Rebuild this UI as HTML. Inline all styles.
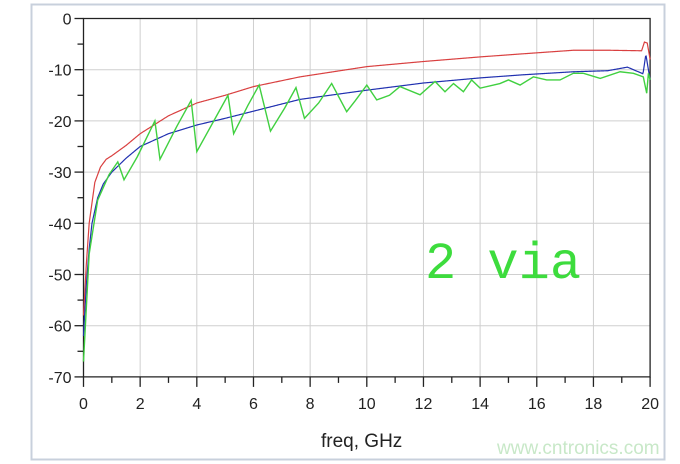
<!DOCTYPE html>
<html><head><style>
html,body{margin:0;padding:0;background:#fff;width:680px;height:464px;overflow:hidden}
svg{display:block}
text{font-family:"Liberation Sans",sans-serif}
</style></head><body>
<svg id="s" width="680" height="464" viewBox="0 0 680 464">
<rect x="31.5" y="4.5" width="633" height="455" fill="#fff" stroke="#c8d0dc" stroke-width="2"/>
<g id="grid" stroke="#cfcfcf" stroke-width="1"></g>
<g id="axes" stroke="#222" stroke-width="1.3" fill="none"></g>
<g id="lbl" font-size="16" fill="#222"></g>
<polyline id="red" fill="none" stroke="#d94040" stroke-width="1.2"/>
<polyline id="blue" fill="none" stroke="#2030b0" stroke-width="1.2"/>
<polyline id="green" fill="none" stroke="#40d040" stroke-width="1.4"/>
<text x="425" y="278" font-size="52" fill="#3ddc3d" style="font-family:'Liberation Mono',monospace">2 via</text>
<text x="321" y="447" font-size="19" fill="#222">freq, GHz</text>
<text x="497" y="454" font-size="19" fill="#c8e8c8">www.cntronics.com</text>
</svg>
<script>
var X=f=>83.5+f*28.33, Y=d=>18.5-d*5.12;
var ns="http://www.w3.org/2000/svg";
function el(p,t,a,tx){var e=document.createElementNS(ns,t);for(var k in a)e.setAttribute(k,a[k]);if(tx!=null)e.textContent=tx;document.getElementById(p).appendChild(e);}
for(var f=2;f<20;f+=2)el("grid","line",{x1:X(f),x2:X(f),y1:Y(0),y2:Y(-70)});
for(var d=-10;d>-70;d-=10)el("grid","line",{x1:X(0),x2:X(20),y1:Y(d),y2:Y(d)});
el("axes","path",{d:"M"+X(0)+" "+Y(0)+"H"+X(20)+"V"+Y(-70)+"H"+X(0)+"Z"});
for(var d=0;d>=-70;d-=5){el("axes","line",{x1:X(0)-(d%10?6:9),x2:X(0),y1:Y(d),y2:Y(d)});}
for(var f=0;f<=20;f++){el("axes","line",{x1:X(f),x2:X(f),y1:Y(-70),y2:Y(-70)+(f%2?6:10)});}
for(var d=0;d>=-70;d-=10)el("lbl","text",{x:X(0)-12,y:Y(d)+6,"text-anchor":"end"},d);
for(var f=0;f<=20;f+=2)el("lbl","text",{x:X(f),y:Y(-70)+32,"text-anchor":"middle"},f);
function interp(t,f){for(var i=1;i<t.length;i++)if(f<=t[i][0]){var a=t[i-1],b=t[i],u=(f-a[0])/(b[0]-a[0]);return a[1]+u*(b[1]-a[1]);}return t[t.length-1][1];}
var RT=[[0,-58],[0.1,-48],[0.2,-40],[0.4,-32],[0.6,-29],[0.8,-27.5],[1,-26.8],[1.5,-24.8],[2,-22.5],[3,-19],[4,-16.5],[5,-15],[6,-13.3],[7.64,-11.4],[10,-9.4],[12,-8.4],[14,-7.5],[15.5,-6.9],[17.3,-6.2],[18.5,-6.2],[19.7,-6.3],[19.8,-4.6],[19.9,-4.8],[20,-8]];
var BT=[[0,-62],[0.1,-52],[0.2,-45],[0.3,-40],[0.5,-35],[0.7,-32.3],[1,-30],[1.5,-27.3],[2,-25],[3,-22.5],[4,-20.8],[5,-19.5],[6,-18.1],[7.64,-15.8],[10,-14],[12,-12.6],[14,-11.6],[15.5,-11],[17.3,-10.4],[18.5,-10.2],[19.2,-9.5],[19.75,-10.8],[19.85,-7],[20,-12]];
var r=[],b=[];
for(var f=0;f<=20.001;f+=0.02){r.push(X(f)+","+Y(interp(RT,f)));b.push(X(f)+","+Y(interp(BT,f)));}
var G=[[0,-67],[0.2,-46],[0.5,-35.5],[0.9,-30.5],[1.21,-28],[1.43,-31.5],[1.9,-27],[2.52,-20],[2.7,-27.5],[3.3,-21],[3.8,-16],[4.0,-26],[4.6,-20],[5.1,-15],[5.3,-22.5],[5.8,-17],[6.2,-13],[6.6,-22],[7.1,-17.5],[7.5,-13.5],[7.8,-19.5],[8.3,-16.5],[8.76,-12.7],[9.29,-18.2],[9.6,-16],[10.0,-13],[10.35,-15.9],[10.8,-15],[11.17,-13.3],[11.88,-14.9],[12.41,-12.3],[12.76,-14.3],[13.06,-12.7],[13.41,-14.3],[13.7,-12],[14.0,-13.6],[14.7,-12.7],[15.0,-12],[15.41,-13],[15.88,-11.4],[16.35,-12],[16.82,-12],[17.29,-10.7],[17.65,-10.7],[18.24,-11.7],[18.94,-10.4],[19.41,-10.7],[19.76,-11.4],[19.88,-14.6],[19.94,-10.7],[20,-12]];
var g=G.map(a=>X(a[0])+","+Y(a[1]));
document.getElementById("red").setAttribute("points",r.join(" "));
document.getElementById("blue").setAttribute("points",b.join(" "));
document.getElementById("green").setAttribute("points",g.join(" "));
</script>
</body></html>
